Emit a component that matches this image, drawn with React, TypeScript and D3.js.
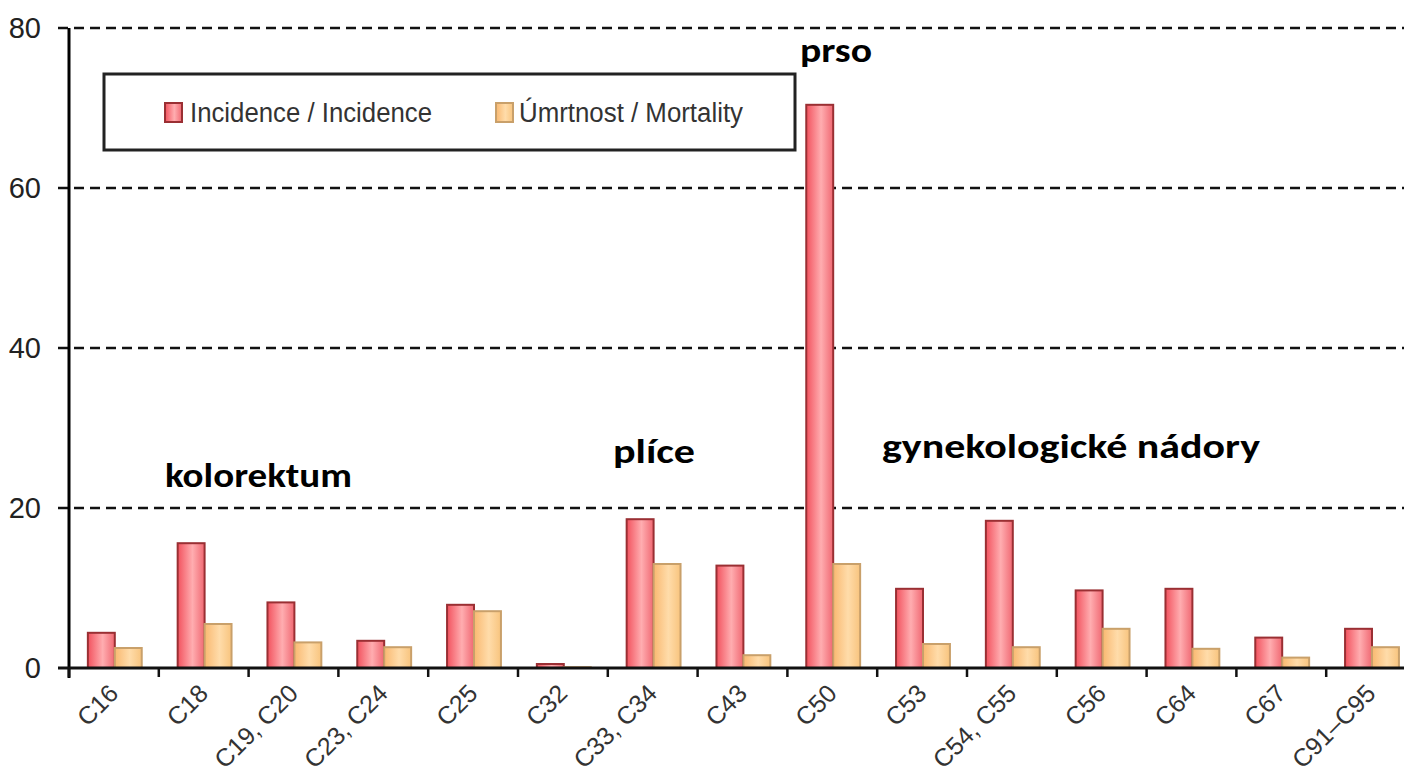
import React from "react";
import * as d3 from "d3";

const categories = ["C16", "C18", "C19, C20", "C23, C24", "C25", "C32", "C33, C34", "C43", "C50", "C53", "C54, C55", "C56", "C64", "C67", "C91–C95"];
const incidence = [4.4, 15.6, 8.2, 3.4, 7.9, 0.5, 18.6, 12.8, 70.4, 9.9, 18.4, 9.7, 9.9, 3.8, 4.9];
const mortality = [2.5, 5.5, 3.2, 2.6, 7.1, 0.1, 13.0, 1.6, 13.0, 3.0, 2.6, 4.9, 2.4, 1.3, 2.6];
const yTicks = [0, 20, 40, 60, 80];
const seriesNames = ["Incidence / Incidence", "Úmrtnost / Mortality"];
const groupLabels = [
  { text: "kolorektum", cat: "C18", value: 22.6 },
  { text: "plíce", cat: "C33, C34", value: 25.6 },
  { text: "prso", cat: "C50", value: 75.8 },
  { text: "gynekologické nádory", cat: "C54, C55", value: 26.2 },
];

const W = 1404;
const H = 783;
const left = 69;
const bandRight = 1416;
const y0 = 668;
const yTop = 28;

const narrow = "'Liberation Sans Narrow', 'Arial Narrow', 'Liberation Sans', Arial, sans-serif";
const bold = "Calibri, 'Open Sans', 'Noto Sans', sans-serif";

export default function App() {
  const x = d3.scaleBand<string>().domain(categories).range([left, bandRight]).padding(0);
  const bw = x.bandwidth();
  const sub = d3.scaleBand<number>().domain([0, 1]).range([bw * 0.21, bw * 0.81]).padding(0);
  const y = d3.scaleLinear().domain([0, 80]).range([y0, yTop]);

  const labelWidths: Record<string, number> = {
    kolorektum: 187,
    "plíce": 82,
    prso: 72,
    "gynekologické nádory": 378,
  };
  const labelX: Record<string, number> = {
    kolorektum: 165,
    "plíce": 613,
    prso: 800,
    "gynekologické nádory": 882,
  };

  return (
    <svg width={W} height={H} style={{ position: "absolute", left: 0, top: 0, background: "#fff" }}>
      <defs>
        <linearGradient id="gInc" x1="0" x2="1" y1="0" y2="0">
          <stop offset="0" stopColor="#f2525e" />
          <stop offset="0.55" stopColor="#ffadb0" />
          <stop offset="1" stopColor="#f06872" />
        </linearGradient>
        <linearGradient id="gMort" x1="0" x2="1" y1="0" y2="0">
          <stop offset="0" stopColor="#f9b870" />
          <stop offset="0.55" stopColor="#ffdcaa" />
          <stop offset="1" stopColor="#f8c47e" />
        </linearGradient>
      </defs>

      {/* gridlines */}
      {yTicks.filter((t) => t > 0).map((t) => (
        <line key={t} x1={58} x2={W} y1={y(t)} y2={y(t)} stroke="#111" strokeWidth={2.5} strokeDasharray="10 6" />
      ))}

      {/* y tick labels */}
      {yTicks.map((t) => (
        <text key={t} x={41} y={y(t)} dy="0.36em" textAnchor="end" fontFamily={narrow} fontSize={29} fill="#222">
          {t}
        </text>
      ))}

      {/* bars */}
      {categories.map((c, i) => {
        const bx = x(c)!;
        const vals = [incidence[i], mortality[i]];
        return (
          <g key={c}>
            {vals.map((v, k) => (
              <rect
                key={k}
                x={bx + sub(k)!}
                y={y(v)}
                width={sub.bandwidth()}
                height={y0 - y(v)}
                fill={k === 0 ? "url(#gInc)" : "url(#gMort)"}
                stroke={k === 0 ? "#9a2f33" : "#c9a06a"}
                strokeWidth={2}
              />
            ))}
          </g>
        );
      })}

      {/* axes */}
      <line x1={left} x2={left} y1={yTop} y2={y0 + 10} stroke="#000" strokeWidth={3} />
      <line x1={58} x2={W} y1={y0} y2={y0} stroke="#111" strokeWidth={3} />
      {categories.map((c) => (
        <line key={c} x1={x(c)!} x2={x(c)!} y1={y0} y2={y0 + 9} stroke="#111" strokeWidth={2.5} />
      ))}

      {/* x tick labels */}
      {categories.map((c) => {
        const cx = x(c)! + bw / 2 + 6;
        const cy = y0 + 27;
        return (
          <text
            key={c}
            transform={`translate(${cx},${cy}) rotate(-45)`}
            textAnchor="end"
            fontFamily={narrow}
            fontSize={25}
            fill="#333"
          >
            {c}
          </text>
        );
      })}

      {/* legend */}
      <rect x={104} y={74} width={691} height={76} fill="#fff" stroke="#222" strokeWidth={3} />
      <rect x={165} y={103} width={17} height={19} fill="url(#gInc)" stroke="#9a2f33" strokeWidth={2} />
      <text x={190} y={122} fontFamily={narrow} fontSize={27} fill="#333" textLength={242} lengthAdjust="spacingAndGlyphs">
        {seriesNames[0]}
      </text>
      <rect x={496} y={103} width={17} height={19} fill="url(#gMort)" stroke="#c9a06a" strokeWidth={2} />
      <text x={519} y={122} fontFamily={narrow} fontSize={27} fill="#333" textLength={224} lengthAdjust="spacingAndGlyphs">
        {seriesNames[1]}
      </text>

      {/* group annotations */}
      {groupLabels.map((g) => (
        <text
          key={g.text}
          x={labelX[g.text]}
          y={y(g.value)}
          fontFamily={bold}
          fontWeight={700}
          fontSize={34}
          fill="#000"
          textLength={labelWidths[g.text]}
          lengthAdjust="spacingAndGlyphs"
        >
          {g.text}
        </text>
      ))}
    </svg>
  );
}
